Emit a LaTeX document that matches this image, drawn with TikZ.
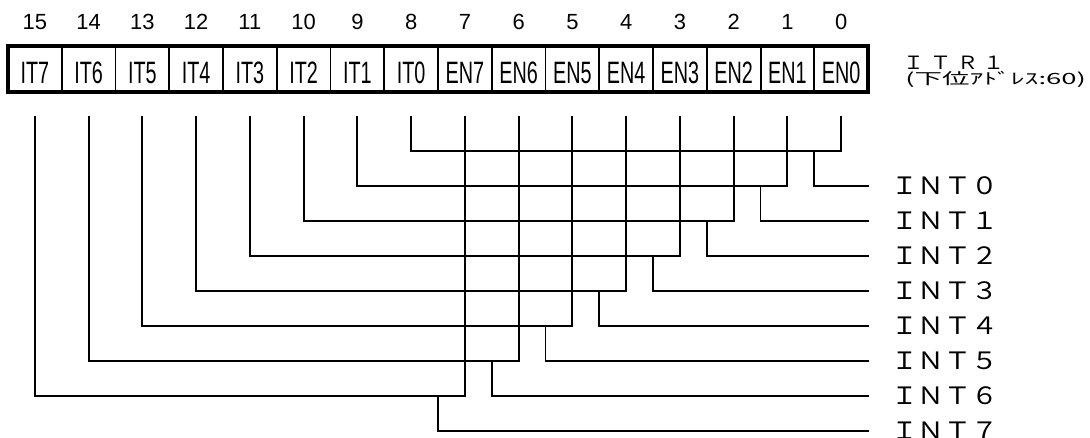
\documentclass[tikz,border=0pt]{standalone}
\usepackage{fontspec}
\setmainfont{Liberation Sans}
\newfontfamily\cellfont[FakeStretch=0.64]{Liberation Sans}
\newfontfamily\jpfont{Noto Sans CJK JP}
\usetikzlibrary{calc}
\tikzset{
	cell/.style={draw, line width=1.4pt, minimum width=1.34375cm, minimum height=1.15cm, inner sep=0pt, outer sep=0pt, text height=20.8pt, text depth=0pt, font=\cellfont\fontsize{22}{24}\selectfont},
	bitnum/.style={inner sep=0pt, yshift=0.4cm, font=\fontsize{15.6}{17}\selectfont},
	wire/.style={line width=1.4pt},
	intlab/.style={anchor=west, inner xsep=15.5pt, inner ysep=0pt, font=\jpfont\fontsize{17}{19}\selectfont}
}
\newcommand{\wide}[2]{\scalebox{#1}[1]{#2}}

\begin{document}
\begin{tikzpicture}[x=0.025cm, y=-0.025cm]
			%%%%% START %%%%%
			\useasboundingbox (0,0) rectangle (1090,437);
			
			\node[cell, label={[bitnum]above:15}] (b15) at (34.875,69) {IT7};
			\node[cell, label={[bitnum]above:14}] (b14) at (88.625,69) {IT6};
			\node[cell, label={[bitnum]above:13}] (b13) at (142.375,69) {IT5};
			\node[cell, label={[bitnum]above:12}] (b12) at (196.125,69) {IT4};
			\node[cell, label={[bitnum]above:11}] (b11) at (249.875,69) {IT3};
			\node[cell, label={[bitnum]above:10}] (b10) at (303.625,69) {IT2};
			\node[cell, label={[bitnum]above:9}] (b9) at (357.375,69) {IT1};
			\node[cell, label={[bitnum]above:8}] (b8) at (411.125,69) {IT0};
			\node[cell, label={[bitnum]above:7}] (b7) at (464.875,69) {EN7};
			\node[cell, label={[bitnum]above:6}] (b6) at (518.625,69) {EN6};
			\node[cell, label={[bitnum]above:5}] (b5) at (572.375,69) {EN5};
			\node[cell, label={[bitnum]above:4}] (b4) at (626.125,69) {EN4};
			\node[cell, label={[bitnum]above:3}] (b3) at (679.875,69) {EN3};
			\node[cell, label={[bitnum]above:2}] (b2) at (733.625,69) {EN2};
			\node[cell, label={[bitnum]above:1}] (b1) at (787.375,69) {EN1};
			\node[cell, label={[bitnum]above:0}] (b0) at (841.125,69) {EN0};
			\draw[line width=2.8pt] (b15.north west) rectangle (b0.south east);
			
			\node[anchor=west, inner sep=0pt, font=\jpfont\fontsize{13}{14}\selectfont] (itr) at (903,63) {\wide{1.15}{Ｉ\;Ｔ\;Ｒ\;１}};
			\node[anchor=west, inner sep=0pt, font=\jpfont\fontsize{11}{12}\selectfont] (addr) at (905,79) {\wide{1.78}{(下位ｱﾄﾞﾚｽ:60)}};
			
			\coordinate (j0) at (814.25,151);
			\coordinate (j1) at (760.5,186);
			\coordinate (j2) at (706.75,221);
			\coordinate (j3) at (653,256);
			\coordinate (j4) at (599.25,291);
			\coordinate (j5) at (545.5,326);
			\coordinate (j6) at (491.75,361);
			\coordinate (j7) at (438,396);
			
			\draw[wire] ([yshift=-6mm]b8.south) |- (j0) -| ([yshift=-6mm]b0.south);
			\draw[wire] ([yshift=-6mm]b9.south) |- (j1) -| ([yshift=-6mm]b1.south);
			\draw[wire] ([yshift=-6mm]b10.south) |- (j2) -| ([yshift=-6mm]b2.south);
			\draw[wire] ([yshift=-6mm]b11.south) |- (j3) -| ([yshift=-6mm]b3.south);
			\draw[wire] ([yshift=-6mm]b12.south) |- (j4) -| ([yshift=-6mm]b4.south);
			\draw[wire] ([yshift=-6mm]b13.south) |- (j5) -| ([yshift=-6mm]b5.south);
			\draw[wire] ([yshift=-6mm]b14.south) |- (j6) -| ([yshift=-6mm]b6.south);
			\draw[wire] ([yshift=-6mm]b15.south) |- (j7) -| ([yshift=-6mm]b7.south);
			
			\node[intlab] (int0) at (869,186) {\wide{1.12}{ＩＮＴ０}};
			\node[intlab] (int1) at (869,221) {\wide{1.12}{ＩＮＴ１}};
			\node[intlab] (int2) at (869,256) {\wide{1.12}{ＩＮＴ２}};
			\node[intlab] (int3) at (869,291) {\wide{1.12}{ＩＮＴ３}};
			\node[intlab] (int4) at (869,326) {\wide{1.12}{ＩＮＴ４}};
			\node[intlab] (int5) at (869,361) {\wide{1.12}{ＩＮＴ５}};
			\node[intlab] (int6) at (869,396) {\wide{1.12}{ＩＮＴ６}};
			\node[intlab] (int7) at (869,431) {\wide{1.12}{ＩＮＴ７}};
			
			\draw[wire] (j0) |- (int0.west);
			\draw[wire] (j1) |- (int1.west);
			\draw[wire] (j2) |- (int2.west);
			\draw[wire] (j3) |- (int3.west);
			\draw[wire] (j4) |- (int4.west);
			\draw[wire] (j5) |- (int5.west);
			\draw[wire] (j6) |- (int6.west);
			\draw[wire] (j7) |- (int7.west);
			%%%%% END %%%%%
\end{tikzpicture}
\end{document}
